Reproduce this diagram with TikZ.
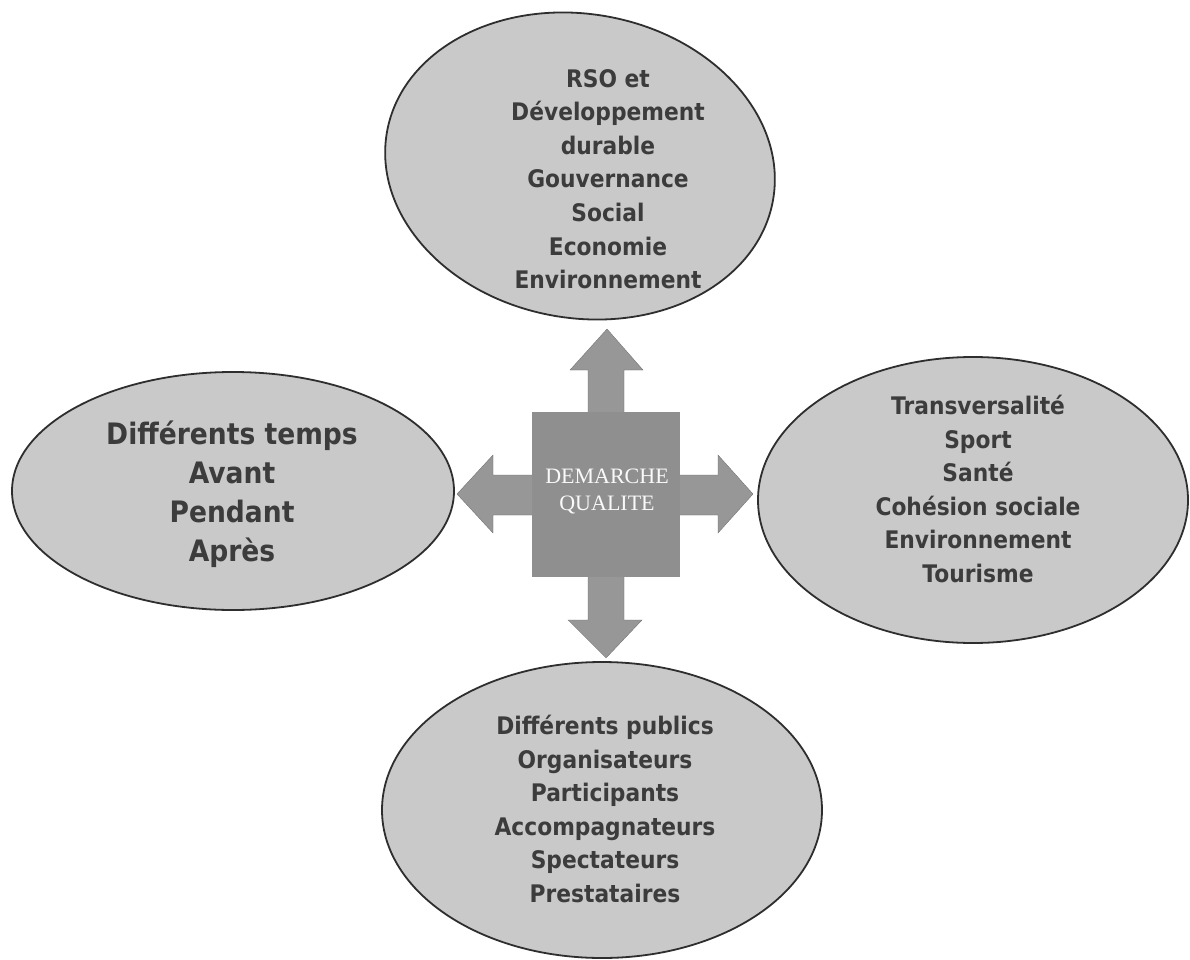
\documentclass[tikz,border=0pt]{standalone}
\usepackage{fontspec}
\setmainfont{DejaVu Sans}
\newfontfamily\elfont{DejaVu Sans}[FakeStretch=0.9]
\newfontfamily\ctrfont{Liberation Serif}
\usetikzlibrary{shapes.geometric}
\definecolor{ellfill}{HTML}{C9C9C9}
\definecolor{ellline}{HTML}{2E2E2E}
\definecolor{txt}{HTML}{3C3C3C}
\definecolor{arrfill}{HTML}{979797}
\definecolor{sqfill}{HTML}{8F8F8F}
\tikzset{
  bubble/.style={ellipse, draw=ellline, fill=ellfill, line width=1.8pt, inner sep=0pt},
  bubtext/.style={align=center, text=txt, font=\elfont\bfseries\fontsize{24.2}{33.6}\selectfont},
  bigtext/.style={align=center, text=txt, font=\elfont\bfseries\fontsize{29.5}{39}\selectfont},
  arrowshape/.style={fill=arrfill, draw=arrfill!70!black, line width=0.3pt},
  ctrtext/.style={align=center, text=white!95!gray, font=\ctrfont\fontsize{22}{27}\selectfont}
}
\begin{document}
\begin{tikzpicture}[x=1pt,y=-1pt]
\useasboundingbox (0,0) rectangle (1190,960);
\fill[white] (0,0) rectangle (1190,960);
% ellipses
\node[bubble, minimum width=392pt, minimum height=304pt, rotate=-10] (top) at (580,166) {};
\node[bubble, minimum width=442pt, minimum height=238pt] (left) at (233,491) {};
\node[bubble, minimum width=430pt, minimum height=286pt] (right) at (973,500) {};
\node[bubble, minimum width=440pt, minimum height=296pt] (bottom) at (602,810) {};
% texts
\node[bubtext] (toptext) at (608,179) {RSO et\\Développement\\durable\\Gouvernance\\Social\\Economie\\Environnement};
\node[bigtext] (lefttext) at (232,494) {Différents temps\\Avant\\Pendant\\Après};
\node[bubtext] (righttext) at (978,489) {Transversalité\\Sport\\Santé\\Cohésion sociale\\Environnement\\Tourisme};
\node[bubtext] (bottomtext) at (605,809) {Différents publics\\Organisateurs\\Participants\\Accompagnateurs\\Spectateurs\\Prestataires};
% cross arrows
\path[arrowshape] (457,494) -- (493,455) -- (493,475) -- (718,475) -- (718,455) -- (753,494)
  -- (718,533) -- (718,515) -- (493,515) -- (493,533) -- cycle;
\path[arrowshape] (607,329) -- (643,370) -- (624,370) -- (624,620) -- (642,620) -- (606,658)
  -- (568,620) -- (588,620) -- (588,370) -- (570,370) -- cycle;
% centre square
\node[fill=sqfill, minimum width=148pt, minimum height=165pt, inner sep=0pt] (ctr) at (606,494.5) {};
\node[ctrtext] (ctrtext) at (607,491) {DEMARCHE\\QUALITE};
\end{tikzpicture}
\end{document}
